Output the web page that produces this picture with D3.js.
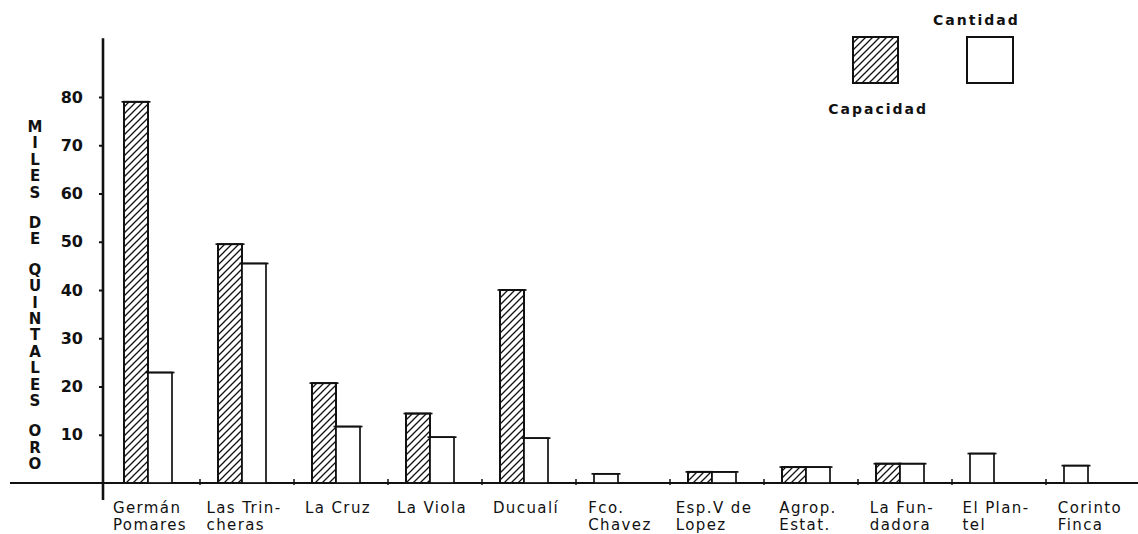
<!DOCTYPE html>
<html>
<head>
<meta charset="utf-8">
<script src="https://cdn.jsdelivr.net/npm/d3@7"></script>
<style>
  body { margin: 0; background: #fff; }
  svg { display: block; }
  text { font-family: "DejaVu Sans", sans-serif; fill: #111; }
</style>
</head>
<body>
<svg id="chart"></svg>
<script>
const categories = [
  "Germán Pomares", "Las Trincheras", "La Cruz", "La Viola", "Ducualí",
  "Fco. Chavez", "Esp.V de Lopez", "Agrop. Estat.", "La Fundadora",
  "El Plantel", "Corinto Finca"
];
const labelLines = [
  ["Germán", "Pomares"], ["Las Trin-", "cheras"], ["La Cruz"], ["La Viola"],
  ["Ducualí"], ["Fco.", "Chavez"], ["Esp.V de", "Lopez"], ["Agrop.", "Estat."],
  ["La Fun-", "dadora"], ["El Plan-", "tel"], ["Corinto", "Finca"]
];
// thousands of quintales
const capacidad = [79, 49.5, 20.7, 14.4, 40, null, 2.3, 3.3, 4, null, null];
const cantidad = [22.9, 45.5, 11.7, 9.5, 9.3, 1.9, 2.3, 3.3, 4, 6.1, 3.6];
const yTicks = [10, 20, 30, 40, 50, 60, 70, 80];
const yTitle = ["MILES", "DE", "QUINTALES", "ORO"];
const legendNames = ["Capacidad", "Cantidad"];

const width = 1138;
const height = 534;

const svg = d3.select("#chart").attr("width", width).attr("height", height);

// hatch pattern
svg.append("defs")
  .append("pattern")
  .attr("id", "hatch")
  .attr("patternUnits", "userSpaceOnUse")
  .attr("width", 7)
  .attr("height", 7)
  .append("path")
  .attr("d", "M-1,1 l2,-2 M0,7 l7,-7 M6,8 l2,-2")
  .attr("stroke", "#111")
  .attr("stroke-width", 1.3);

// scales
const x = d3.scaleBand().domain(categories).range([106, 1140]);
const slot = d3.scaleBand().domain(legendNames).range([18, 66]);
const y = d3.scaleLinear().domain([0, 80]).range([483, 97]);

// y axis
const yAxis = d3.axisLeft(y).tickValues(yTicks).tickSize(4).tickPadding(16);
const yg = svg.append("g").attr("transform", "translate(103,0)").call(yAxis);
yg.select(".domain").remove();
yg.selectAll(".tick line").attr("stroke", "#111").attr("stroke-width", 2).attr("x2", -4).attr("x1", 1);
yg.selectAll(".tick text")
  .style("font-size", "16px")
  .style("font-weight", "bold")
  .attr("fill", "#111");

svg.append("line")
  .attr("x1", 103).attr("x2", 103)
  .attr("y1", y(92.2)).attr("y2", y(-3.5))
  .attr("stroke", "#111").attr("stroke-width", 2.6);

// y title, stacked letters
let ty = 132;
yTitle.forEach((word) => {
  word.split("").forEach((ch) => {
    svg.append("text")
      .attr("x", 35).attr("y", ty)
      .attr("text-anchor", "middle")
      .style("font-size", "15px")
      .style("font-weight", "bold")
      .text(ch);
    ty += 16.4;
  });
  ty += 14;
});

// baseline
svg.append("line")
  .attr("x1", 10).attr("x2", width)
  .attr("y1", y(0)).attr("y2", y(0))
  .attr("stroke", "#111").attr("stroke-width", 2.2);

// x ticks between categories
svg.selectAll(".xtick")
  .data(categories.slice(1))
  .enter()
  .append("line")
  .attr("class", "xtick")
  .attr("x1", (d) => x(d)).attr("x2", (d) => x(d))
  .attr("y1", y(0) - 4).attr("y2", y(0) + 2)
  .attr("stroke", "#111").attr("stroke-width", 1.5);

// bars
const barW = 24;
function drawBar(cx, val, hatched) {
  const top = y(val);
  svg.append("rect")
    .attr("x", cx).attr("y", top)
    .attr("width", barW).attr("height", y(0) - top)
    .attr("fill", hatched ? "url(#hatch)" : "#fff")
    .attr("stroke", "#111")
    .attr("stroke-width", hatched ? 2 : 1.7);
  // little pen overshoot at the top corners
  svg.append("line")
    .attr("x1", cx - 2.5).attr("x2", cx + barW + 2.5)
    .attr("y1", top).attr("y2", top)
    .attr("stroke", "#111").attr("stroke-width", 1.7);
}

categories.forEach((c, i) => {
  const hasCap = capacidad[i] != null;
  if (hasCap) drawBar(x(c) + slot("Capacidad"), capacidad[i], true);
  drawBar(x(c) + (hasCap ? slot("Cantidad") : slot("Capacidad")), cantidad[i], false);
});

// x labels
categories.forEach((c, i) => {
  const g = svg.append("g");
  const texts = labelLines[i].map((line, j) =>
    g.append("text")
      .attr("y", 513 + j * 17)
      .style("font-size", "15px")
      .style("letter-spacing", "1.4px")
      .text(line)
  );
  const w = d3.max(texts, (t) => t.node().getComputedTextLength());
  const left = x(c) + x.bandwidth() / 2 - 3 - w / 2;
  texts.forEach((t) => t.attr("x", left));
});

// legend
svg.append("rect")
  .attr("x", 853).attr("y", 37).attr("width", 45).attr("height", 46)
  .attr("fill", "url(#hatch)").attr("stroke", "#111").attr("stroke-width", 2);
svg.append("rect")
  .attr("x", 967).attr("y", 37).attr("width", 46).attr("height", 46)
  .attr("fill", "#fff").attr("stroke", "#111").attr("stroke-width", 2);

svg.append("text")
  .attr("x", 928).attr("y", 114)
  .attr("text-anchor", "end")
  .style("font-size", "14px")
  .style("font-weight", "bold")
  .style("letter-spacing", "2px")
  .text(legendNames[0]);
svg.append("text")
  .attr("x", 933).attr("y", 25)
  .style("font-size", "14px")
  .style("font-weight", "bold")
  .style("letter-spacing", "2px")
  .text(legendNames[1]);
</script>
</body>
</html>
